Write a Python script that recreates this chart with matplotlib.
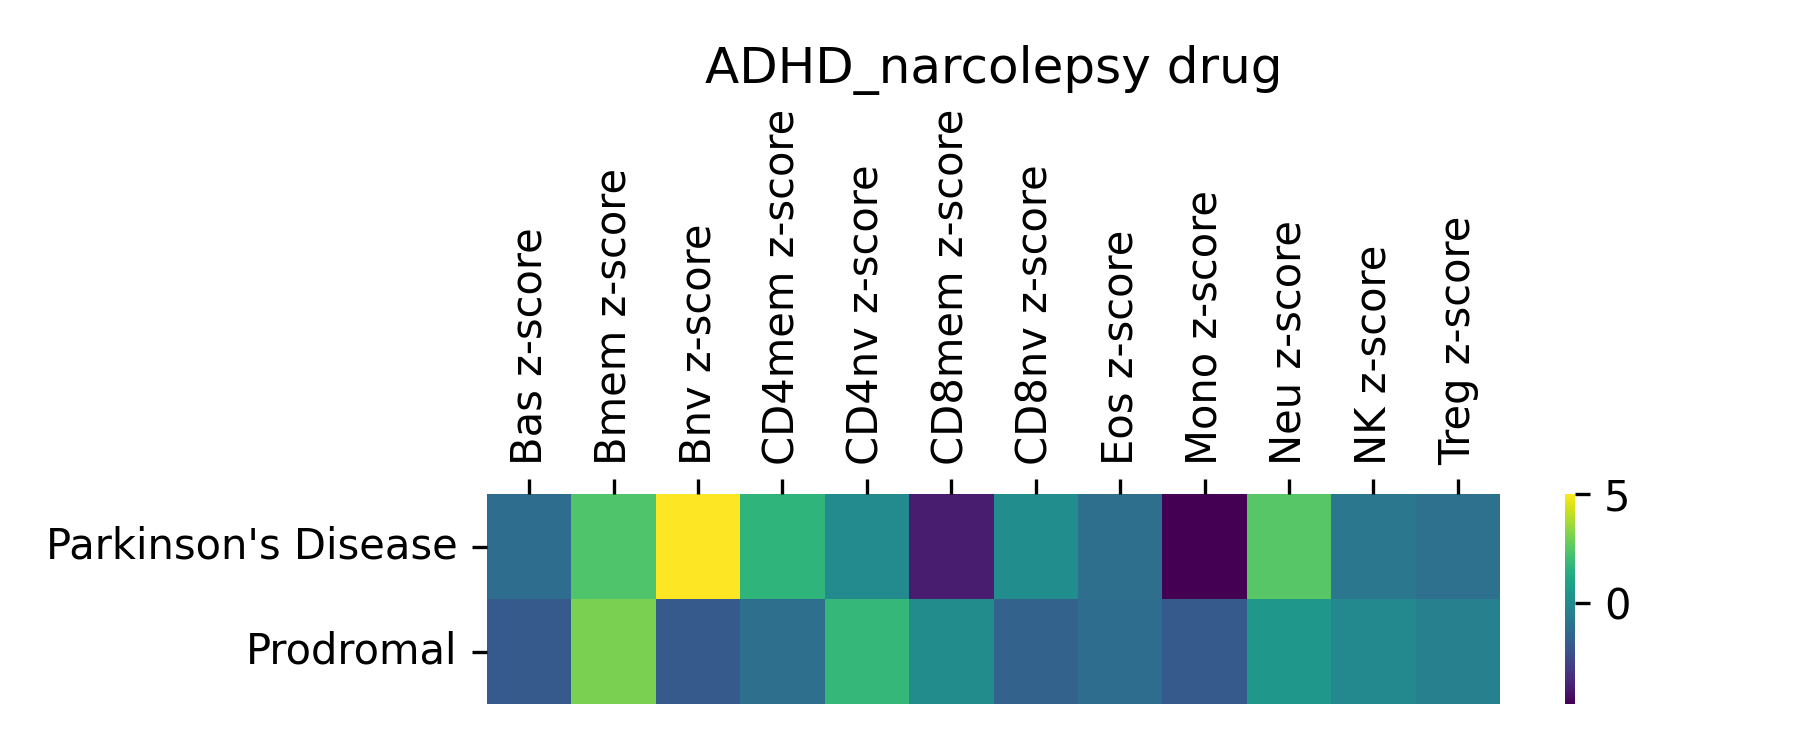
import matplotlib
matplotlib.use("Agg")
import matplotlib.pyplot as plt
import seaborn as sns
import numpy as np
import pandas as pd

columns = ["Bas z-score", "Bmem z-score", "Bnv z-score", "CD4mem z-score",
           "CD4nv z-score", "CD8mem z-score", "CD8nv z-score", "Eos z-score",
           "Mono z-score", "Neu z-score", "NK z-score", "Treg z-score"]
rows = ["Parkinson's Disease", "Prodromal"]
pd_values = [-1.21, 2.35, 5.00, 1.63, -0.06, -3.91, 0.09, -1.16, -4.63, 2.45, -0.83, -1.07]
prodromal_values = [-1.93, 3.07, -1.93, -1.16, 1.77, 0.00, -1.64, -1.21, -1.93, 0.47, -0.10, -0.49]
title = "ADHD_narcolepsy drug"
cbar_ticks = [0, 5]

df = pd.DataFrame([pd_values, prodromal_values], index=rows, columns=columns)

fig = plt.figure(figsize=(6, 2.5), dpi=300)
ax = fig.add_axes([487/1800, 1 - 704/750, (1500 - 487)/1800, (704 - 494)/750])
cax = fig.add_axes([1565/1800, 1 - 704/750, 10/1800, (704 - 494)/750])

sns.heatmap(df, ax=ax, cbar_ax=cax, cmap="viridis", cbar_kws={"ticks": cbar_ticks})
ax.xaxis.tick_top()
ax.set_xticklabels(columns, rotation=90)
ax.set_yticklabels(rows, rotation=0)
ax.set_title(title, fontsize=12)
cax.outline.set_visible(False) if hasattr(cax, "outline") else None
for s in cax.spines.values():
    s.set_visible(False)

fig.savefig("out.png", dpi=300)
